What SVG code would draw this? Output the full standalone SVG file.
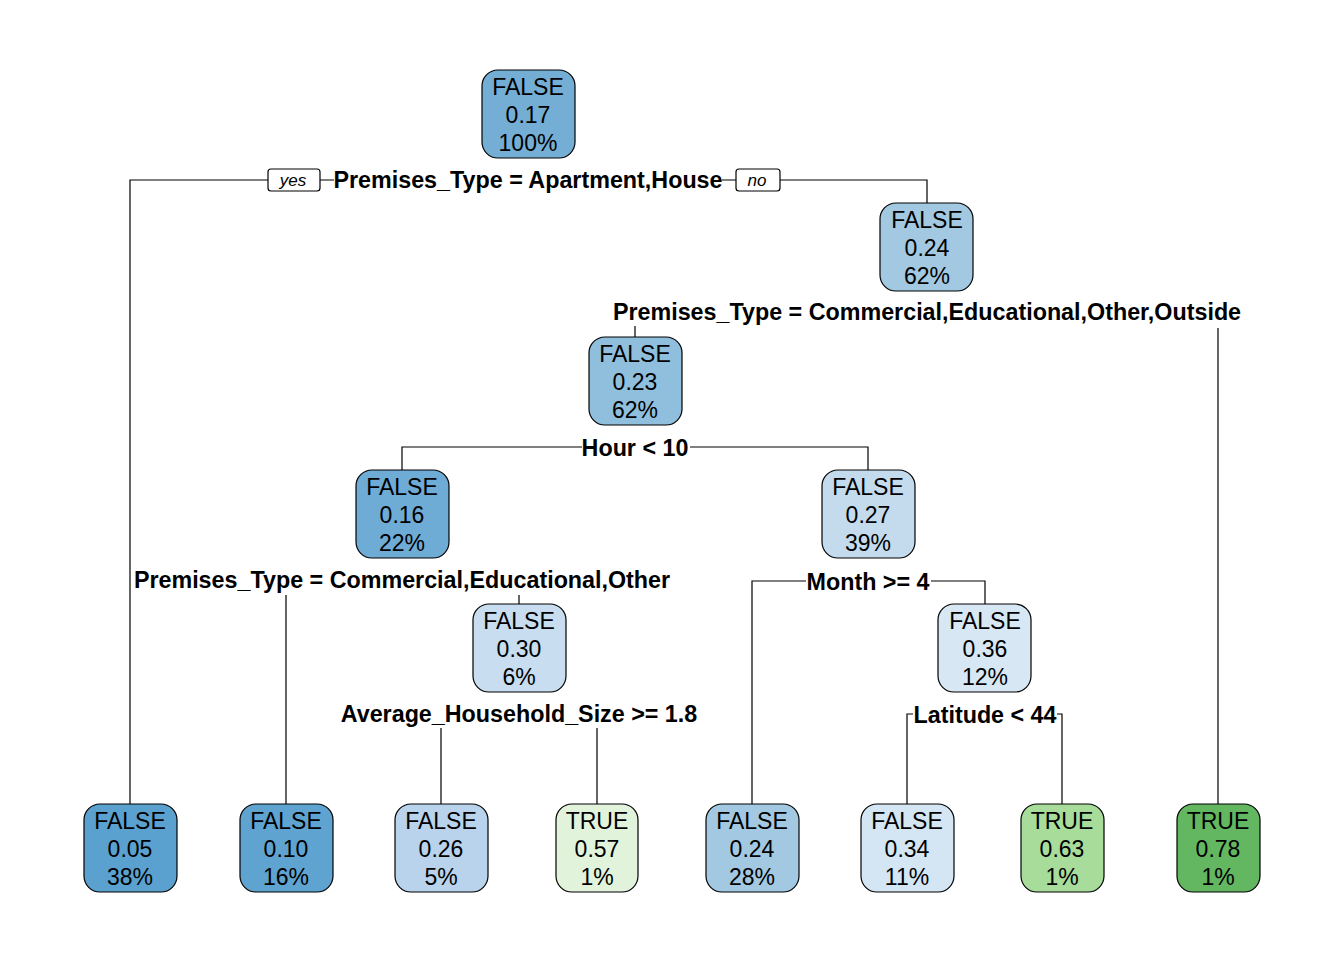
<svg xmlns="http://www.w3.org/2000/svg" width="1344" height="960" viewBox="0 0 1344 960">
<style>
.box{stroke:#000;stroke-width:1.2}
.t{font-family:"Liberation Sans",Arial,sans-serif;font-size:23px;text-anchor:middle;fill:#000}
.lbl{font-family:"Liberation Sans",Arial,sans-serif;font-size:23.3px;font-weight:bold;text-anchor:middle;fill:#000}
.yn{font-family:"Liberation Sans",Arial,sans-serif;font-size:17px;font-style:italic;text-anchor:middle;fill:#000}
.c{stroke:#000;stroke-width:1.2;fill:none}
.bg{fill:#fff}
</style>
<rect width="1344" height="960" fill="#fff"/>
<g id="connectors">
<path class="c" d="M130,804 V180 H268 M320,180 H334 M722,180 H736 M780,180 H927 V203"/>
<path class="c" d="M635,326 V337 M1218,328 V804"/>
<path class="c" d="M402,470 V447 H868 V470"/>
<path class="c" d="M286,595 V804 M519,595 V604"/>
<path class="c" d="M752,804 V581 H985 V604"/>
<path class="c" d="M441,728 V804 M597,728 V804"/>
<path class="c" d="M907,804 V714 H1062 V804"/>
</g>
<g id="labels">
<rect class="bg" x="582" y="435" width="108" height="24"/>
<rect class="bg" x="806" y="569" width="125" height="24"/>
<rect class="bg" x="913" y="702" width="144" height="24"/>
<text class="lbl" x="528" y="188">Premises_Type = Apartment,House</text>
<text class="lbl" x="927" y="320">Premises_Type = Commercial,Educational,Other,Outside</text>
<text class="lbl" x="635" y="456">Hour &lt; 10</text>
<text class="lbl" x="402" y="588">Premises_Type = Commercial,Educational,Other</text>
<text class="lbl" x="868" y="590">Month &gt;= 4</text>
<text class="lbl" x="519" y="722">Average_Household_Size &gt;= 1.8</text>
<text class="lbl" x="985" y="723">Latitude &lt; 44</text>
<g id="yes"><rect x="268" y="169" width="52" height="22" rx="3" fill="#fff" stroke="#000" stroke-width="1.2"/><text class="yn" x="293" y="186">yes</text></g>
<g id="no"><rect x="736" y="169" width="44" height="22" rx="3" fill="#fff" stroke="#000" stroke-width="1.2"/><text class="yn" x="757" y="186">no</text></g>
</g>
<g id="n1"><rect class="box" x="482" y="70" width="93" height="88" rx="16" fill="#74aed4"/><text class="t" x="528" y="95">FALSE</text><text class="t" x="528" y="123">0.17</text><text class="t" x="528" y="151">100%</text></g>
<g id="n3"><rect class="box" x="880" y="203" width="93" height="88" rx="16" fill="#a3c8e2"/><text class="t" x="927" y="228">FALSE</text><text class="t" x="927" y="256">0.24</text><text class="t" x="927" y="284">62%</text></g>
<g id="n6"><rect class="box" x="589" y="337" width="93" height="88" rx="16" fill="#8fbfdd"/><text class="t" x="635" y="362">FALSE</text><text class="t" x="635" y="390">0.23</text><text class="t" x="635" y="418">62%</text></g>
<g id="n12"><rect class="box" x="356" y="470" width="93" height="88" rx="16" fill="#6eabd5"/><text class="t" x="402" y="495">FALSE</text><text class="t" x="402" y="523">0.16</text><text class="t" x="402" y="551">22%</text></g>
<g id="n13"><rect class="box" x="822" y="470" width="93" height="88" rx="16" fill="#c4dbee"/><text class="t" x="868" y="495">FALSE</text><text class="t" x="868" y="523">0.27</text><text class="t" x="868" y="551">39%</text></g>
<g id="n25"><rect class="box" x="473" y="604" width="93" height="88" rx="16" fill="#c8ddf0"/><text class="t" x="519" y="629">FALSE</text><text class="t" x="519" y="657">0.30</text><text class="t" x="519" y="685">6%</text></g>
<g id="n27"><rect class="box" x="938" y="604" width="93" height="88" rx="16" fill="#d8e7f4"/><text class="t" x="985" y="629">FALSE</text><text class="t" x="985" y="657">0.36</text><text class="t" x="985" y="685">12%</text></g>
<g id="l2"><rect class="box" x="84" y="804" width="93" height="88" rx="16" fill="#5aa1cf"/><text class="t" x="130" y="829">FALSE</text><text class="t" x="130" y="857">0.05</text><text class="t" x="130" y="885">38%</text></g>
<g id="l24"><rect class="box" x="240" y="804" width="93" height="88" rx="16" fill="#5fa3d0"/><text class="t" x="286" y="829">FALSE</text><text class="t" x="286" y="857">0.10</text><text class="t" x="286" y="885">16%</text></g>
<g id="l50"><rect class="box" x="395" y="804" width="93" height="88" rx="16" fill="#b9d3ec"/><text class="t" x="441" y="829">FALSE</text><text class="t" x="441" y="857">0.26</text><text class="t" x="441" y="885">5%</text></g>
<g id="l51"><rect class="box" x="556" y="804" width="82" height="88" rx="16" fill="#e2f3dc"/><text class="t" x="597" y="829">TRUE</text><text class="t" x="597" y="857">0.57</text><text class="t" x="597" y="885">1%</text></g>
<g id="l26"><rect class="box" x="706" y="804" width="93" height="88" rx="16" fill="#a3c8e2"/><text class="t" x="752" y="829">FALSE</text><text class="t" x="752" y="857">0.24</text><text class="t" x="752" y="885">28%</text></g>
<g id="l54"><rect class="box" x="861" y="804" width="93" height="88" rx="16" fill="#d4e5f4"/><text class="t" x="907" y="829">FALSE</text><text class="t" x="907" y="857">0.34</text><text class="t" x="907" y="885">11%</text></g>
<g id="l55"><rect class="box" x="1021" y="804" width="83" height="88" rx="16" fill="#a8dc9b"/><text class="t" x="1062" y="829">TRUE</text><text class="t" x="1062" y="857">0.63</text><text class="t" x="1062" y="885">1%</text></g>
<g id="l7"><rect class="box" x="1177" y="804" width="83" height="88" rx="16" fill="#63b760"/><text class="t" x="1218" y="829">TRUE</text><text class="t" x="1218" y="857">0.78</text><text class="t" x="1218" y="885">1%</text></g>
</svg>
